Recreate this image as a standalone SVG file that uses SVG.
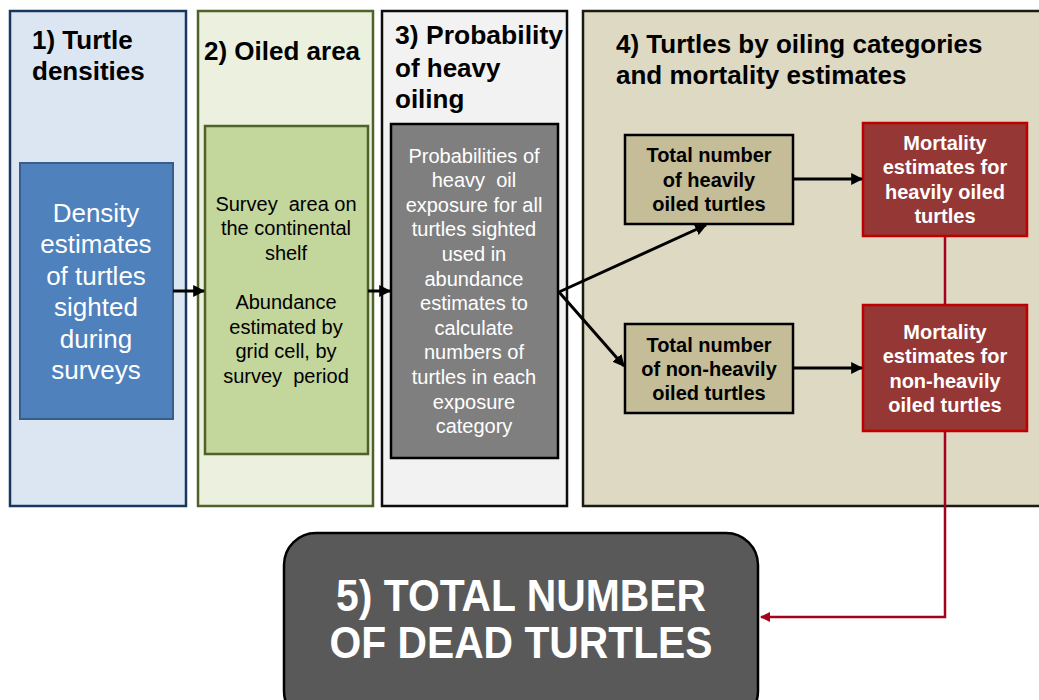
<svg xmlns="http://www.w3.org/2000/svg" width="1039" height="700" viewBox="0 0 1039 700">
<defs>
<marker id="ah" viewBox="0 0 10 10" refX="9" refY="5" markerWidth="4" markerHeight="4" orient="auto" markerUnits="strokeWidth"><path d="M0,0 L10,5 L0,10 z" fill="#000"/></marker>
<marker id="ahr" viewBox="0 0 10 10" refX="9" refY="5" markerWidth="4" markerHeight="4" orient="auto" markerUnits="strokeWidth"><path d="M0,0 L10,5 L0,10 z" fill="#a5001e"/></marker>
</defs>
<style>
text{font-family:"Liberation Sans",Arial,sans-serif;text-anchor:middle}
.hd{font-size:26px;font-weight:bold;fill:#000;text-anchor:start}
.t20{font-size:20px}
.b20{font-size:20px;font-weight:bold}
.w{fill:#fff}
.k{fill:#000}
.pre{white-space:pre}
.arr{stroke:#000;stroke-width:3;fill:none;marker-end:url(#ah)}
.red{stroke:#a5001e;stroke-width:2.5;fill:none}
</style>
<rect width="1039" height="700" fill="#fff"/>
<g id="panel1">
<rect x="10" y="11" width="176" height="495" fill="#dce6f2" stroke="#17375e" stroke-width="2.5"/>
<text class="hd" x="32" y="49">1) Turtle</text>
<text class="hd" x="32" y="80">densities</text>
</g>
<g id="panel2">
<rect x="198" y="11" width="175" height="495" fill="#ebf1de" stroke="#4f6228" stroke-width="2.5"/>
<text class="hd" x="204" y="60">2) Oiled area</text>
</g>
<g id="panel3">
<rect x="382" y="11" width="185" height="495" fill="#f2f2f2" stroke="#0d0d0d" stroke-width="2.5"/>
<text class="hd" x="395" y="44" textLength="168" lengthAdjust="spacingAndGlyphs">3) Probability</text>
<text class="hd" x="395" y="77">of heavy</text>
<text class="hd" x="395" y="108">oiling</text>
</g>
<g id="panel4">
<rect x="583" y="11" width="470" height="495" fill="#ddd9c3" stroke="#1d1b10" stroke-width="2.5"/>
<text class="hd" x="616" y="53">4) Turtles by oiling categories</text>
<text class="hd" x="616" y="84">and mortality estimates</text>
</g>
<g id="density">
<rect x="20" y="163" width="153" height="256" fill="#4f81bd" stroke="#385d8a" stroke-width="2"/>
<text class="w" style="font-size:26px" x="96" y="222">Density</text>
<text class="w" style="font-size:26px" x="96" y="253">estimates</text>
<text class="w" style="font-size:26px" x="96" y="285">of turtles</text>
<text class="w" style="font-size:26px" x="96" y="316">sighted</text>
<text class="w" style="font-size:26px" x="96" y="348">during</text>
<text class="w" style="font-size:26px" x="96" y="379">surveys</text>
</g>
<g id="survey">
<rect x="205" y="126" width="163" height="328" fill="#c3d69b" stroke="#4f6228" stroke-width="2.5"/>
<text class="t20 k pre" x="286" y="211">Survey  area on</text>
<text class="t20 k" x="286" y="235">the continental</text>
<text class="t20 k" x="286" y="260">shelf</text>
<text class="t20 k" x="286" y="309">Abundance</text>
<text class="t20 k" x="286" y="334">estimated by</text>
<text class="t20 k" x="286" y="358">grid cell, by</text>
<text class="t20 k pre" x="286" y="383">survey  period</text>
</g>
<g id="probabilities">
<rect x="391" y="124" width="167" height="334" fill="#7f7f7f" stroke="#000" stroke-width="2.5"/>
<text class="t20 w" x="474" y="163">Probabilities of</text>
<text class="t20 w pre" x="474" y="187">heavy  oil</text>
<text class="t20 w" x="474" y="212">exposure for all</text>
<text class="t20 w" x="474" y="236">turtles sighted</text>
<text class="t20 w" x="474" y="261">used in</text>
<text class="t20 w" x="474" y="286">abundance</text>
<text class="t20 w" x="474" y="310">estimates to</text>
<text class="t20 w" x="474" y="335">calculate</text>
<text class="t20 w" x="474" y="359">numbers of</text>
<text class="t20 w" x="474" y="384">turtles in each</text>
<text class="t20 w" x="474" y="409">exposure</text>
<text class="t20 w" x="474" y="433">category</text>
</g>
<g id="heavy">
<rect x="625" y="135" width="168" height="89" fill="#c4bd97" stroke="#000" stroke-width="2.5"/>
<text class="b20 k" x="709" y="162">Total number</text>
<text class="b20 k" x="709" y="187">of heavily</text>
<text class="b20 k" x="709" y="211">oiled turtles</text>
</g>
<g id="nonheavy">
<rect x="625" y="324" width="168" height="89" fill="#c4bd97" stroke="#000" stroke-width="2.5"/>
<text class="b20 k" x="709" y="352">Total number</text>
<text class="b20 k" x="709" y="376">of non-heavily</text>
<text class="b20 k" x="709" y="400">oiled turtles</text>
</g>
<g id="mort-heavy">
<rect x="863" y="123" width="164" height="113" fill="#953735" stroke="#c00000" stroke-width="2.5"/>
<text class="b20 w" x="945" y="150">Mortality</text>
<text class="b20 w" x="945" y="174">estimates for</text>
<text class="b20 w" x="945" y="199">heavily oiled</text>
<text class="b20 w" x="945" y="223">turtles</text>
</g>
<g id="mort-nonheavy">
<rect x="863" y="305" width="164" height="126" fill="#953735" stroke="#c00000" stroke-width="2.5"/>
<text class="b20 w" x="945" y="339">Mortality</text>
<text class="b20 w" x="945" y="363">estimates for</text>
<text class="b20 w" x="945" y="388">non-heavily</text>
<text class="b20 w" x="945" y="412">oiled turtles</text>
</g>
<g id="total">
<rect x="284" y="533" width="474" height="190" rx="32" fill="#595959" stroke="#000" stroke-width="2.5"/>
<text class="w" style="font-size:44px;font-weight:bold" x="521" y="611" textLength="370" lengthAdjust="spacingAndGlyphs">5) TOTAL NUMBER</text>
<text class="w" style="font-size:44px;font-weight:bold" x="521" y="658" textLength="383" lengthAdjust="spacingAndGlyphs">OF DEAD TURTLES</text>
</g>
<g id="connectors">
<line class="arr" x1="173" y1="291" x2="204" y2="291"/>
<line class="arr" x1="368" y1="291" x2="390" y2="291"/>
<line class="arr" x1="559" y1="292" x2="706" y2="225"/>
<line class="arr" x1="559" y1="292" x2="624" y2="366"/>
<line class="arr" x1="793" y1="179" x2="862" y2="179"/>
<line class="arr" x1="793" y1="368" x2="862" y2="368"/>
<line class="red" x1="945" y1="237" x2="945" y2="304"/>
<polyline class="red" points="945,432 945,617 761,617" marker-end="url(#ahr)"/>
</g>
</svg>
